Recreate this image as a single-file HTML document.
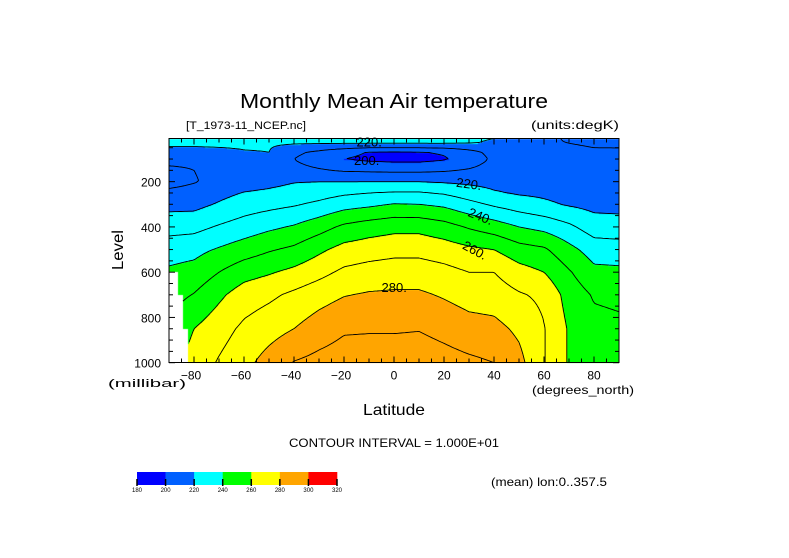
<!DOCTYPE html>
<html><head><meta charset="utf-8">
<style>
html,body{margin:0;padding:0;background:#fff;}
#wrap{position:relative;width:789px;height:558px;overflow:hidden;}
canvas{position:absolute;left:0;top:0;}
svg{position:absolute;left:0;top:0;}
text{font-family:"Liberation Sans",sans-serif;fill:#000;}
</style></head>
<body>
<div id="wrap">
<canvas id="cv" width="789" height="558"></canvas>
<svg id="sv" width="789" height="558" xmlns="http://www.w3.org/2000/svg">
<text x="394" y="108" text-anchor="middle" font-size="20" textLength="308" lengthAdjust="spacingAndGlyphs">Monthly Mean Air temperature</text>
<text x="186" y="129" font-size="11" textLength="120" lengthAdjust="spacingAndGlyphs">[T_1973-11_NCEP.nc]</text>
<text x="619" y="129" text-anchor="end" font-size="12" textLength="88" lengthAdjust="spacingAndGlyphs">(units:degK)</text>
<text x="394" y="415" text-anchor="middle" font-size="16" textLength="62" lengthAdjust="spacingAndGlyphs">Latitude</text>
<text x="0" y="0" transform="translate(123,250) rotate(-90)" text-anchor="middle" font-size="16" textLength="40" lengthAdjust="spacingAndGlyphs">Level</text>
<text x="108" y="387" font-size="11" textLength="78" lengthAdjust="spacingAndGlyphs">(millibar)</text>
<text x="634" y="394" text-anchor="end" font-size="12" textLength="102" lengthAdjust="spacingAndGlyphs">(degrees_north)</text>
<text x="394" y="447" text-anchor="middle" font-size="12" textLength="210" lengthAdjust="spacingAndGlyphs">CONTOUR INTERVAL = 1.000E+01</text>
<text x="491" y="486" font-size="12" textLength="116" lengthAdjust="spacingAndGlyphs">(mean) lon:0..357.5</text>
<g id="contours"></g>
<g id="axes"></g>
<g id="clabels"></g>
<g id="cbar"></g>
</svg>
</div>
<script>
// ---- data ----
const lats = [-90,-80,-70,-60,-50,-40,-30,-20,-10,0,10,20,30,40,50,60,70,80,90];
const levels = [10,30,50,70,100,150,200,250,300,400,500,600,700,850,1000];
// temperature columns (degK), one array per latitude, values at `levels`
const tLatM90 = [222,221.5,219.5,216,213,208,207,212,217,226,236,241.5,246,252,256];
const tLatM80 = [222,221.5,219.5,215.5,212,210,209.5,213,217,227,237,243.5,250.5,260,264];
const tLatM70 = [222,221.5,220,217,214,212,212,217,221,231,241,250,258,266,271];
const tLatM60 = [222,221.5,220.5,219.5,218,214,215,220.5,225,234.5,245,256,265,272,277];
const tLatM50 = [222,221.5,220.5,220,219,216,217,222,227,238,249,259,268,276,284];
const tLatM40 = [222,221,216,212,210,213,219.5,224,229,241,252,262.5,272,280,290.5];
const tLatM30 = [222,221,214,208,205,211,220,226,232,246,258,267,276,285,293];
const tLatM20 = [222,221,212,203,200,209,220,228.5,236,252,263.5,272,279.5,288.8,295];
const tLatM10 = [223,221,210,199.5,198,208.5,220,230,238,255,265.5,274,281,289,296];
const tLat0   = [223,221,210,199,197,208,220,231,240.5,257,267,275,281.5,289,296];
const tLat10  = [223,221,210,199.5,197,208,220,231,240,257,267,275,281.5,289.5,296];
const tLat20  = [222,221,211,201,199,209,219,229,238,254,265,273,279,287,294];
const tLat30  = [221,220.5,213,207,204,211,218,225,233,249,262,270,276,284,292];
const tLat40  = [220,219,214,213,212,214,217,221,228.5,245,260,270,275,283,290];
const tLat50  = [216,214,214,214,214,215,217,219,225,240,254,264,271,278,283];
const tLat60  = [212,211,213,213.5,214,214,215,218,222,237,251.5,260,268,270.5,270.5];
const tLat70  = [209,210,211,212,213,213,214,216,219,232,243,251,256,259,259];
const tLat80  = [208,209,210,211,212,212,213,215,217,225,235.5,242.5,249,253,255];
const tLat90  = [207.5,208.5,210,211,212,212,213,214.5,217,224,235,242,248,252,254];
const temps = [tLatM90,tLatM80,tLatM70,tLatM60,tLatM50,tLatM40,tLatM30,tLatM20,tLatM10,tLat0,tLat10,tLat20,tLat30,tLat40,tLat50,tLat60,tLat70,tLat80,tLat90];
// missing data (below ground) : latitude upper bound and level from which data is missing
const missLat = [-86.5,-84.5,-82.5];
const missLev = [598,700,850];
const colorLevels = [180,200,220,240,260,280,300,320];
const colorFills = ['#0000ff','#0060ff','#00ffff','#00ff00','#ffff00','#ffa500','#ff0000'];
const contourVals = [200,210,220,230,240,250,260,270,280,290];
const labelVals = ['220.','200.','220.','240.','260.','280.'];
const labelLat = [-15,-16,25,30,28,-5];
const labelLev = [22,105,200,330,475,665];
const labelRot = [0,0,8,22,28,0];
const xTicks = [-80,-60,-40,-20,0,20,40,60,80];
const yTicks = [200,400,600,800,1000];

// ---- axes functions ----
const X0=169, X1=619, Y0=138.5, Y1=362.5;
const LAT0=-90, LAT1=90;
function xOf(lat){return X0+(lat-LAT0)/(LAT1-LAT0)*(X1-X0);}
function yOf(lev){return 136.4+lev*0.2263;}
function latOf(x){return LAT0+(x-X0)/(X1-X0)*(LAT1-LAT0);}
function levOf(y){return (y-136.4)/0.2263;}
function tempAt(lat,lev){
  let i=Math.min(lats.length-2,Math.max(0,Math.floor((lat-lats[0])/10)));
  let fx=(lat-lats[i])/(lats[i+1]-lats[i]);
  let j=0; while(j<levels.length-2 && lev>levels[j+1]) j++;
  let fy=(lev-levels[j])/(levels[j+1]-levels[j]);
  fx=Math.max(0,Math.min(1,fx)); fy=Math.max(0,Math.min(1,fy));
  const a=temps[i][j],b=temps[i+1][j],c=temps[i][j+1],d=temps[i+1][j+1];
  return (a*(1-fx)+b*fx)*(1-fy)+(c*(1-fx)+d*fx)*fy;
}
function missing(lat,lev){
  for(let k=0;k<missLat.length;k++){ if(lat<=missLat[k] && lev>=missLev[k]) return true; }
  return false;
}
function hex(c){return [parseInt(c.substr(1,2),16),parseInt(c.substr(3,2),16),parseInt(c.substr(5,2),16)];}
const rgb=colorFills.map(hex);

// ---- fill ----
const cv=document.getElementById('cv'), ctx=cv.getContext('2d');
const W=X1-X0, H=Math.round(Y1-Y0);
const img=ctx.createImageData(W,H);
for(let py=0;py<H;py++){
  const lev=levOf(Y0+py+0.5);
  for(let px=0;px<W;px++){
    const lat=latOf(X0+px+0.5);
    let col=[255,255,255];
    if(!missing(lat,lev)){
      const t=tempAt(lat,lev);
      let k=0; while(k<colorLevels.length-2 && t>=colorLevels[k+1]) k++;
      col=rgb[k];
    }
    const o=(py*W+px)*4; img.data[o]=col[0];img.data[o+1]=col[1];img.data[o+2]=col[2];img.data[o+3]=255;
  }
}
ctx.putImageData(img,X0,Math.round(Y0));

// ---- contour lines (marching squares) ----
const NS='http://www.w3.org/2000/svg';
const step=2, nx=Math.floor(W/step), ny=Math.floor(H/step);
const grid=[];
for(let j=0;j<=ny;j++){grid.push([]);for(let i=0;i<=nx;i++){
  const x=X0+i*step, y=Y0+j*step; const lat=latOf(x), lev=levOf(y);
  grid[j].push(missing(lat,lev)?NaN:tempAt(lat,lev));}}
const cg=document.getElementById('contours');
contourVals.forEach(v=>{
  let d='';
  for(let j=0;j<ny;j++)for(let i=0;i<nx;i++){
    const a=grid[j][i],b=grid[j][i+1],c=grid[j+1][i+1],e=grid[j+1][i];
    if(isNaN(a)||isNaN(b)||isNaN(c)||isNaN(e)) continue;
    const x=X0+i*step,y=Y0+j*step,pts=[];
    function ip(p,q){return (v-p)/(q-p);}
    if((a<v)!=(b<v)) pts.push([x+ip(a,b)*step,y]);
    if((b<v)!=(c<v)) pts.push([x+step,y+ip(b,c)*step]);
    if((e<v)!=(c<v)) pts.push([x+ip(e,c)*step,y+step]);
    if((a<v)!=(e<v)) pts.push([x,y+ip(a,e)*step]);
    for(let k=0;k+1<pts.length;k+=2) d+='M'+pts[k][0].toFixed(1)+' '+pts[k][1].toFixed(1)+'L'+pts[k+1][0].toFixed(1)+' '+pts[k+1][1].toFixed(1);
  }
  const p=document.createElementNS(NS,'path');
  p.setAttribute('d',d);p.setAttribute('stroke','#000');p.setAttribute('stroke-width','0.9');p.setAttribute('fill','none');
  
  
  cg.appendChild(p);
});

// ---- contour labels ----
const lg=document.getElementById('clabels');
labelVals.forEach((s,k)=>{
  const t=document.createElementNS(NS,'text');
  const x=xOf(labelLat[k]), y=yOf(labelLev[k]);
  t.setAttribute('x',x);t.setAttribute('y',y+5);t.setAttribute('font-size','13');
  t.setAttribute('transform','rotate('+labelRot[k]+' '+x+' '+y+')');
  t.textContent=s;
  
  
  lg.appendChild(t);
});

// ---- axes ----
const ag=document.getElementById('axes');
function line(x1,y1,x2,y2,w){const l=document.createElementNS(NS,'line');l.setAttribute('x1',x1);l.setAttribute('y1',y1);l.setAttribute('x2',x2);l.setAttribute('y2',y2);l.setAttribute('stroke','#000');l.setAttribute('stroke-width',w||1);return l;}
const fr=document.createElementNS(NS,'rect');
fr.setAttribute('x',X0);fr.setAttribute('y',Y0);fr.setAttribute('width',X1-X0);fr.setAttribute('height',Y1-Y0);
fr.setAttribute('fill','none');fr.setAttribute('stroke','#000');fr.setAttribute('stroke-width','1');


ag.appendChild(fr);
for(let lat=-85;lat<90;lat+=5){
  const x=xOf(lat), len=(lat%20===0)?6:4;
  ag.appendChild(line(x,Y1,x,Y1-len)); ag.appendChild(line(x,Y0,x,Y0+len));
}
for(let lev=50;lev<=1000;lev+=50){
  const y=yOf(lev), len=(lev%200===0)?6:4;
  ag.appendChild(line(X0,y,X0+len,y)); ag.appendChild(line(X1,y,X1-len,y));
}
xTicks.forEach(v=>{
  const t=document.createElementNS(NS,'text');
  t.setAttribute('x',xOf(v)+(v<0?-3:0));t.setAttribute('y',Y1+17);t.setAttribute('text-anchor','middle');t.setAttribute('font-size','12');
  t.textContent=(v<0?'\u2212'+(-v):String(v));
  
  
  ag.appendChild(t);
});
yTicks.forEach(v=>{
  const t=document.createElementNS(NS,'text');
  t.setAttribute('x',X0-8);t.setAttribute('y',yOf(v)+5);t.setAttribute('text-anchor','end');t.setAttribute('font-size','12');
  t.textContent=String(v);
  
  
  ag.appendChild(t);
});

// ---- color bar ----
const cb=document.getElementById('cbar');
const cbX=137, cbW=200/colorFills.length, cbY=472, cbH=13;
colorFills.forEach((c,k)=>{
  const r=document.createElementNS(NS,'rect');
  r.setAttribute('x',cbX+k*cbW);r.setAttribute('y',cbY);r.setAttribute('width',cbW+0.3);r.setAttribute('height',cbH);r.setAttribute('fill',c);
  
  
  cb.appendChild(r);
});
colorLevels.forEach((v,k)=>{
  const x=cbX+k*cbW;
  cb.appendChild(line(x,cbY+cbH-6,x,cbY+cbH+1,1.5));
  const t=document.createElementNS(NS,'text');
  t.setAttribute('x',x);t.setAttribute('y',cbY+cbH+7);t.setAttribute('text-anchor','middle');t.setAttribute('font-size','6');
  t.textContent=String(v);
  
  
  cb.appendChild(t);
});
</script>
</body></html>
